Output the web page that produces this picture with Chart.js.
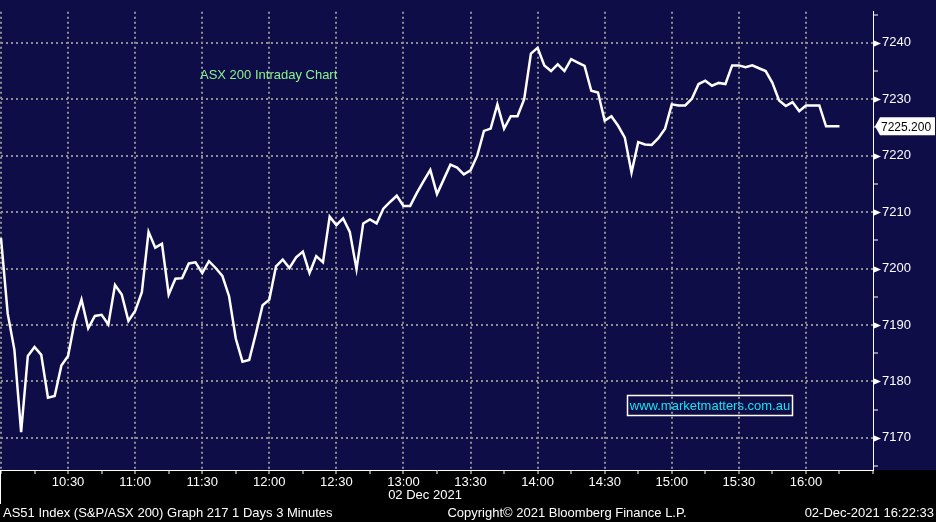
<!DOCTYPE html>
<html>
<head>
<meta charset="utf-8">
<script src="https://cdn.jsdelivr.net/npm/chart.js@4.4.0/dist/chart.umd.min.js"></script>
<style>
html, body { margin: 0; padding: 0; background: #000; }
canvas { display: block; }
</style>
</head>
<body>
<canvas id="chart" width="936" height="522"></canvas>
<script>
// AS51 3-minute bars, 02 Dec 2021
const sessionStart = '10:00';
const sessionEnd = '16:30';
const barMinutes = 3;

const closes = [
    7205.4, 7192.0, 7185.6, 7171.0, 7184.5, 7186.1, 7184.7, 7177.1, 7177.4, 7182.8,
    7184.5, 7190.7, 7194.5, 7189.4, 7191.6, 7191.8, 7190.1, 7197.1, 7195.4, 7190.7,
    7192.5, 7195.8, 7206.5, 7203.7, 7204.4, 7195.4, 7198.2, 7198.3, 7200.9, 7201.1,
    7199.2, 7201.3, 7200.1, 7198.7, 7195.1, 7187.6, 7183.5, 7183.8, 7188.5, 7193.5,
    7194.5, 7200.4, 7201.6, 7200.1, 7202.0, 7203.0, 7199.2, 7202.2, 7201.1, 7209.2,
    7207.7, 7208.9, 7206.5, 7199.9, 7208.0, 7208.7, 7208.0, 7210.6, 7211.8, 7212.9,
    7211.1, 7211.1, 7213.4, 7215.5, 7217.5, 7213.2, 7215.8, 7218.4, 7217.9, 7216.7,
    7217.4, 7220.0, 7224.4, 7224.8, 7229.1, 7224.8, 7227.0, 7227.0, 7230.0, 7238.1,
    7239.1, 7236.0, 7235.0, 7236.2, 7235.0, 7237.1, 7236.5, 7235.9, 7231.5, 7231.2,
    7226.2, 7227.0, 7225.3, 7223.2, 7217.0, 7222.4, 7222.0, 7221.9, 7223.1, 7224.8,
    7229.1, 7228.9, 7228.9, 7230.1, 7232.7, 7233.3, 7232.4, 7232.9, 7232.7, 7236.0,
    7236.0, 7235.7, 7236.0, 7235.5, 7235.0, 7232.9, 7229.8, 7228.8, 7229.5, 7227.9,
    7228.9, 7228.9, 7228.9, 7225.2, 7225.2, 7225.2
];
const timeTickLabels = ['10:30', '11:00', '11:30', '12:00', '12:30', '13:00', '13:30', '14:00', '14:30', '15:00', '15:30', '16:00'];
const lastPrice = 7225.2;
const yMin = 7164.3;
const yMax = 7245.5;

const navy = '#0f0d47';
const gridGray = '#8f8f8f';
const font = '"Liberation Sans", Arial, sans-serif';

// time axis categories
const toMin = s => { const [h, m] = s.split(':').map(Number); return h * 60 + m; };
const toHHMM = m => String(Math.floor(m / 60)).padStart(2, '0') + ':' + String(m % 60).padStart(2, '0');
const times = [];
for (let m = toMin(sessionStart); m <= toMin(sessionEnd); m += barMinutes) times.push(toHHMM(m));

const frame = {
    id: 'frame',
    beforeDraw(chart) {
        const { ctx, chartArea: a } = chart;
        ctx.save();
        ctx.fillStyle = '#000';
        ctx.fillRect(0, 0, chart.width, chart.height);
        ctx.fillStyle = navy;
        ctx.fillRect(0, 0, chart.width, a.bottom);
        ctx.restore();
    },
    afterDraw(chart) {
        const { ctx, chartArea: a } = chart;
        const y = chart.scales.y;
        ctx.save();

        // arrows on major y ticks
        ctx.fillStyle = '#fff';
        y.ticks.forEach(t => {
            if (t.value % 10 !== 0) return;
            const py = Math.round(y.getPixelForValue(t.value)) + 0.5;
            ctx.beginPath();
            ctx.moveTo(a.right, py - 3.5);
            ctx.lineTo(a.right + 8, py);
            ctx.lineTo(a.right, py + 3.5);
            ctx.closePath();
            ctx.fill();
        });

        // last price tag
        const ty = y.getPixelForValue(lastPrice);
        ctx.beginPath();
        ctx.moveTo(a.right + 2, ty);
        ctx.lineTo(a.right + 7, ty - 9);
        ctx.lineTo(935, ty - 9);
        ctx.lineTo(935, ty + 9);
        ctx.lineTo(a.right + 7, ty + 9);
        ctx.closePath();
        ctx.fill();
        ctx.fillStyle = '#000';
        ctx.font = '12px ' + font;
        ctx.textBaseline = 'middle';
        ctx.textAlign = 'left';
        ctx.fillText(lastPrice.toFixed(3), a.right + 8, ty + 1);

        // left edge under axis
        ctx.strokeStyle = '#fff';
        ctx.lineWidth = 1;
        ctx.beginPath();
        ctx.moveTo(0.5, a.bottom);
        ctx.lineTo(0.5, 504);
        ctx.stroke();

        ctx.font = '13px ' + font;

        // chart title
        ctx.fillStyle = '#8cf58c';
        ctx.fillText('ASX 200 Intraday Chart', 200, 75);

        // website box
        ctx.strokeStyle = '#fff';
        ctx.lineWidth = 1.5;
        ctx.strokeRect(627.5, 395.5, 165, 20);
        ctx.fillStyle = '#12e4f2';
        ctx.textAlign = 'center';
        ctx.fillText('www.marketmatters.com.au', 710, 406);

        // date and footer
        ctx.fillStyle = '#fff';
        ctx.fillText('02 Dec 2021', 425, 495);
        ctx.fillText('Copyright\u00a9 2021 Bloomberg Finance L.P.', 567, 513);
        ctx.textAlign = 'left';
        ctx.fillText('AS51 Index (S&P/ASX 200) Graph 217 1 Days 3 Minutes', 3, 513);
        ctx.textAlign = 'right';
        ctx.fillText('02-Dec-2021 16:22:33', 934, 513);
        ctx.restore();
    }
};

const labelMin = ctx => toMin(times[ctx.index] || '00:00');

new Chart(document.getElementById('chart'), {
    type: 'line',
    data: {
        labels: times,
        datasets: [{
            data: closes,
            borderColor: '#fff',
            borderWidth: 2.5,
            pointRadius: 0,
            tension: 0,
            fill: false
        }]
    },
    options: {
        responsive: false,
        animation: false,
        layout: { padding: 0, autoPadding: false },
        plugins: { legend: { display: false }, tooltip: { enabled: false } },
        scales: {
            x: {
                type: 'category',
                offset: false,
                afterFit: s => { s.height = 52; },
                border: { display: true, color: '#fff', width: 1, dash: [2, 3] },
                grid: {
                    lineWidth: 2,
                    color: c => (labelMin(c) % 30 === 0 && labelMin(c) < toMin(sessionEnd)) ? gridGray : 'rgba(0,0,0,0)',
                    tickColor: c => (labelMin(c) % 15 === 0) ? '#fff' : 'rgba(0,0,0,0)',
                    tickWidth: 1,
                    tickLength: 4
                },
                ticks: {
                    autoSkip: false,
                    maxRotation: 0,
                    padding: 1,
                    color: '#fff',
                    font: { family: font, size: 13 },
                    callback: function (v) {
                        const l = this.getLabelForValue(v);
                        return timeTickLabels.includes(l) ? l : '';
                    }
                }
            },
            y: {
                position: 'right',
                min: yMin,
                max: yMax,
                afterFit: s => { s.width = 63; },
                border: { display: true, color: '#fff', width: 1, dash: [2, 3] },
                grid: {
                    lineWidth: 2,
                    color: c => (c.tick && c.tick.value % 10 === 0) ? gridGray : 'rgba(0,0,0,0)',
                    tickColor: '#fff',
                    tickWidth: 1,
                    tickLength: 5
                },
                ticks: {
                    stepSize: 5,
                    includeBounds: false,
                    padding: 4,
                    color: '#fff',
                    font: { family: font, size: 13 },
                    callback: v => (v % 10 === 0 ? String(v) : '')
                }
            }
        }
    },
    plugins: [frame]
});
</script>
</body>
</html>
